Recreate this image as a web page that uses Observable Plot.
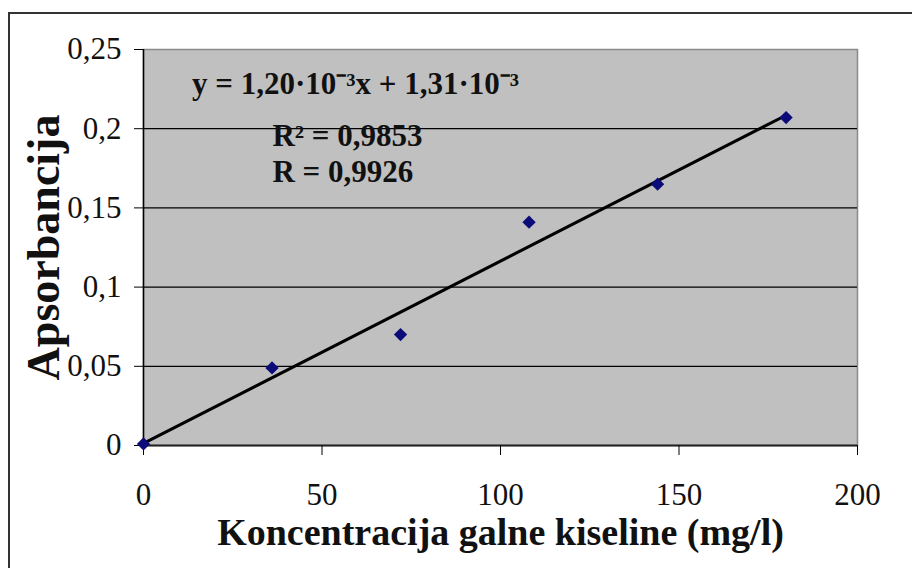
<!DOCTYPE html>
<html>
<head>
<meta charset="utf-8">
<script src="https://cdn.jsdelivr.net/npm/d3@7"></script>
<script src="https://cdn.jsdelivr.net/npm/@observablehq/plot@0.6"></script>
<style>
  html, body { margin: 0; padding: 0; background: #fff; overflow: hidden; }
  #wrap { position: relative; width: 912px; height: 568px; }
  #border { position: absolute; left: 8px; top: 12px; width: 920px; height: 600px;
            border: 2px solid #333; box-sizing: border-box; pointer-events: none; }
  #chart { position: absolute; left: 0; top: 0; }
</style>
</head>
<body>
<div id="wrap"><div id="chart"></div><div id="border"></div></div>
<script>
// Data
const concentration = [0, 36, 72, 108, 144, 180];
const absorbance = [0.001, 0.049, 0.070, 0.141, 0.165, 0.207];

// Trend line end points as drawn
const trendX = [0, 180];
const trendY = [0.0013, 0.2085];

const xTicks = [0, 50, 100, 150, 200];
const yTicks = [0, 0.05, 0.1, 0.15, 0.2, 0.25];
const gridY = [0.05, 0.1, 0.15, 0.2];

const annotText = ["y = 1,20·10⁻³x + 1,31·10⁻³", "R² = 0,9853", "R = 0,9926"];
const annotX = [13.6, 36.1, 36.1];
const annotY = [0.2222, 0.1892, 0.1665];

const xLabel = "Koncentracija galne kiseline (mg/l)";
const yLabel = "Apsorbancija";

const points = concentration.map((c, i) => ({x: c, y: absorbance[i]}));
const trend = trendX.map((v, i) => ({x: v, y: trendY[i]}));
const annots = annotText.map((t, i) => ({t, x: annotX[i], y: annotY[i]}));
const fmt = d => String(d).replace(".", ",");

const chart = Plot.plot({
  width: 912,
  height: 568,
  marginLeft: 143,
  marginRight: 55,
  marginTop: 49,
  marginBottom: 123,
  style: {fontFamily: "'Liberation Serif', 'Times New Roman', serif", fontSize: "31px", color: "#000", background: "#fff"},
  x: {domain: [0, 200]},
  y: {domain: [0, 0.25]},
  marks: [
    Plot.frame({fill: "#c0c0c0", stroke: "#8a8a8a", strokeWidth: 1.5}),
    Plot.ruleY(gridY, {stroke: "#000", strokeWidth: 1.2}),
    Plot.ruleX([0], {stroke: "#000", strokeWidth: 1.5}),
    Plot.ruleY([0], {stroke: "#222", strokeWidth: 2.2}),
    Plot.axisY({ticks: yTicks, tickFormat: fmt, tickSize: 9, tickPadding: 13, label: null, fill: "#111", stroke: "#000"}),
    Plot.axisX({ticks: xTicks, tickFormat: fmt, tickSize: 10, tickPadding: 27, label: null, fill: "#111", stroke: "#000"}),
    Plot.line(trend, {x: "x", y: "y", stroke: "#000", strokeWidth: 3}),
    Plot.dot(points, {x: "x", y: "y", symbol: "diamond2", r: 6, fill: "#0b0b7a", stroke: "none"}),
    Plot.text(annots, {x: "x", y: "y", text: "t", textAnchor: "start", lineAnchor: "bottom",
      fontWeight: "bold", fontSize: 31, fill: "#111"}),
    Plot.text([xLabel], {frameAnchor: "bottom", dy: 99, lineAnchor: "bottom", textAnchor: "middle",
      fontWeight: "bold", fontSize: 38, fill: "#111"}),
    Plot.text([yLabel], {frameAnchor: "left", dx: -85, rotate: -90, lineAnchor: "bottom", textAnchor: "middle",
      fontWeight: "bold", fontSize: 46, fill: "#111"})
  ]
});
document.getElementById("chart").appendChild(chart);
</script>
</body>
</html>
